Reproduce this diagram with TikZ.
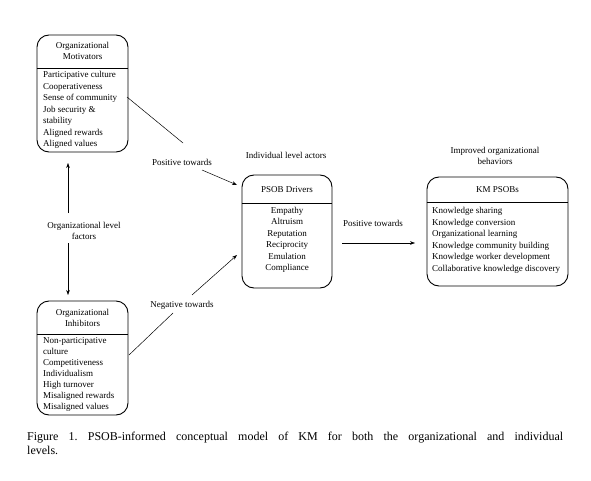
\documentclass[tikz,border=0pt]{standalone}
\usepackage{fontspec}
\setmainfont{Liberation Serif}
\usetikzlibrary{arrows.meta}
\begin{document}
\frenchspacing
\begin{tikzpicture}[x=1pt,y=-1pt,
  boxshape/.style={draw, rounded corners=12pt, line width=0.9pt, inner sep=0pt},
  txt/.style={inner sep=0pt, font=\fontsize{9}{11.5}\selectfont},
  lab/.style={inner sep=0pt, font=\fontsize{9}{11.5}\selectfont, align=center},
  conn/.style={line width=0.5pt},
  arr/.style={line width=0.5pt, -{Stealth[length=5pt,width=3.6pt]}}]
\useasboundingbox[fill=white] (0,0) rectangle (591,481);

% boxes
\node[boxshape, minimum width=91pt, minimum height=117pt] (mot) at (82.5,93.5) {};
\node[boxshape, minimum width=91pt, minimum height=114pt] (inh) at (82.5,358) {};
\node[boxshape, minimum width=90pt, minimum height=113pt] (drv) at (287,231.5) {};
\node[boxshape, minimum width=141pt, minimum height=109pt] (kmp) at (497.5,231.5) {};

% dividers
\draw[line width=0.9pt] (mot.west |- 0,68) -- (mot.east |- 0,68);
\draw[line width=0.9pt] (inh.west |- 0,334) -- (inh.east |- 0,334);
\draw[line width=0.9pt] (drv.west |- 0,203) -- (drv.east |- 0,203);
\draw[line width=0.9pt] (kmp.west |- 0,202) -- (kmp.east |- 0,202);

% headers
\node[lab] (motH) at (82.5,51) {Organizational\\Motivators};
\node[lab] (inhH) at (82.5,318) {Organizational\\Inhibitors};
\node[lab] (drvH) at (287,190) {PSOB Drivers};
\node[lab] (kmpH) at (497.5,190) {KM PSOBs};

% lists
\node[txt, align=left, anchor=west] (motL) at (43,110) {Participative culture\\Cooperativeness\\Sense of community\\Job security \&\\stability\\Aligned rewards\\Aligned values};
\node[txt, align=left, anchor=west, font=\fontsize{9}{11}\selectfont] (inhL) at (43,374) {Non-participative\\culture\\Competitiveness\\Individualism\\High turnover\\Misaligned rewards\\Misaligned values};
\node[txt, align=center] (drvL) at (287,240) {Empathy\\Altruism\\Reputation\\Reciprocity\\Emulation\\Compliance};
\node[txt, align=left, anchor=west] (kmpL) at (432,240.5) {Knowledge sharing\\Knowledge conversion\\Organizational learning\\Knowledge community building\\Knowledge worker development\\Collaborative knowledge discovery};

% free labels
\node[lab] (ind) at (286,155) {Individual level actors};
\node[lab] (imp) at (495,156) {Improved organizational\\behaviors};
\node[lab] (pos1) at (182,162) {Positive towards};
\node[lab] (neg) at (182,305) {Negative towards};
\node[lab] (pos2) at (373,223) {Positive towards};
\node[lab] (olf) at (84,231) {Organizational level\\factors};

% connector end points
\coordinate (p1a) at (127,97);
\coordinate (p1b) at (183,143);
\coordinate (p1c) at (202,170);
\coordinate (p1d) at (237,185);
\coordinate (n1a) at (129,355);
\coordinate (n1b) at (173,313);
\coordinate (n1c) at (192,295);
\coordinate (n1d) at (237,255);
\coordinate (h1a) at (342,243);
\coordinate (h1b) at (415,243);
\coordinate (v1a) at (68,213);
\coordinate (v1b) at (68,163);
\coordinate (v2a) at (68,243);
\coordinate (v2b) at (68,295);

\draw[conn] (p1a) -- (p1b);
\draw[arr] (p1c) -- (p1d);
\draw[conn] (n1a) -- (n1b);
\draw[arr] (n1c) -- (n1d);
\draw[arr] (h1a) -- (h1b);
\draw[arr] (v1a) -- (v1b);
\draw[arr] (v2a) -- (v2b);

% caption
\node[inner sep=0pt, anchor=north west, text width=536pt, align=justify,
      font=\fontsize{12}{14}\selectfont] (cap) at (27,432)
  {Figure 1. PSOB-informed conceptual model of KM for both the organizational and individual\linebreak levels.};
\end{tikzpicture}
\end{document}
